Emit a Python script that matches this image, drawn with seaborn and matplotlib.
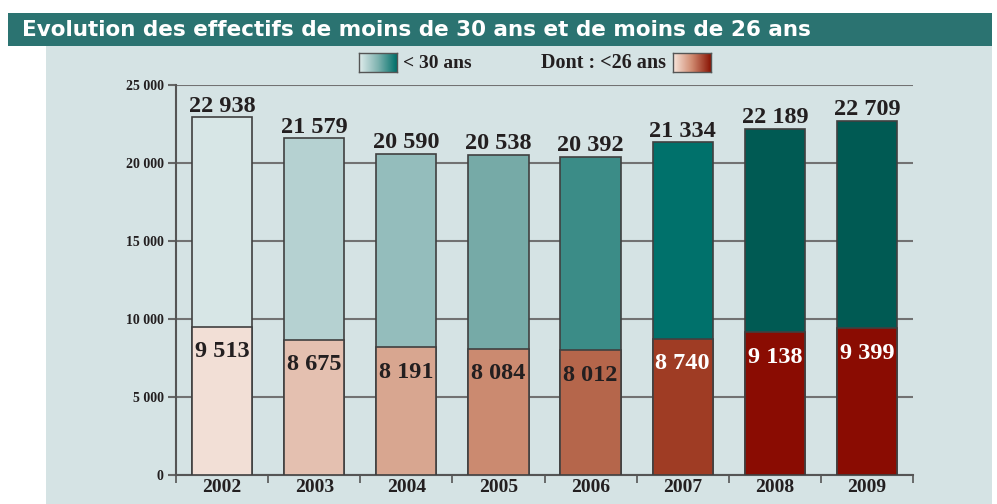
import numpy as np
import pandas as pd
import matplotlib
matplotlib.use("Agg")
import matplotlib.pyplot as plt
import seaborn as sns
from matplotlib.patches import Rectangle
from matplotlib.colors import LinearSegmentedColormap

years = ["2002", "2003", "2004", "2005", "2006", "2007", "2008", "2009"]
under30 = [22938, 21579, 20590, 20538, 20392, 21334, 22189, 22709]
under26 = [9513, 8675, 8191, 8084, 8012, 8740, 9138, 9399]
colors30 = ["#d7e6e6", "#b5d1d1", "#94bdbc", "#76aaa7", "#3b8c87", "#00716b", "#005a53", "#005a53"]
colors26 = ["#f2dfd6", "#e4c0b0", "#d8a690", "#cb8a70", "#b5664b", "#9f3c24", "#8a0c02", "#8a0c02"]
label26_colors = ["#231f20"] * 5 + ["white"] * 3
title = "Evolution des effectifs de moins de 30 ans et de moins de 26 ans"
yticks = [0, 5000, 10000, 15000, 20000, 25000]
ytick_labels = ["0", "5 000", "10 000", "15 000", "20 000", "25 000"]

df = pd.DataFrame({"year": years, "under30": under30, "under26": under26})

def fmt(v):
    return f"{v:,}".replace(",", " ")

W, H = 997, 504
fig = plt.figure(figsize=(W / 100, H / 100), dpi=100)
fig.patch.set_facecolor("white")

# background panel and title band, in a background axes
bg = fig.add_axes([0, 0, 1, 1], zorder=-10)
bg.set_xlim(0, W)
bg.set_ylim(H, 0)
bg.axis("off")
bg.add_patch(Rectangle((46, 46), 992 - 46, H - 46, facecolor="#d5e3e4", edgecolor="none"))
bg.add_patch(Rectangle((8, 13), 992 - 8, 33, facecolor="#2b7371", edgecolor="none"))
bg.text(22, 30, title, color="white", fontsize=15.5, fontweight="bold",
        family="DejaVu Sans", va="center", ha="left")

ax = fig.add_axes([176 / W, 1 - 475 / H, (913 - 176) / W, (475 - 85) / H], zorder=5)
ax.set_facecolor("none")

serif = "Liberation Serif"
sns.barplot(data=df, x="year", y="under30", palette=colors30, hue="year",
            legend=False, width=0.655, edgecolor="#404040", linewidth=1.2,
            saturation=1, ax=ax, zorder=3)
sns.barplot(data=df, x="year", y="under26", palette=colors26, hue="year",
            legend=False, width=0.655, edgecolor="#404040", linewidth=1.2,
            saturation=1, ax=ax, zorder=4)

for i, (a, b) in enumerate(zip(under30, under26)):
    ax.annotate(fmt(a), (i, a), xytext=(0, 4), textcoords="offset points",
                ha="center", va="baseline", fontsize=17.5, fontweight="bold",
                family=serif, color="#231f20", zorder=6)
    ax.annotate(fmt(b), (i, b), xytext=(0, -18), textcoords="offset points",
                ha="center", va="center", fontsize=17.5, fontweight="bold",
                family=serif, color=label26_colors[i], zorder=6)

ax.set_xlim(-0.5, 7.5)
ax.set_ylim(0, 25000)
ax.set_yticks(yticks)
ax.set_yticklabels(ytick_labels, fontsize=10, fontweight="bold", family=serif,
                   color="#231f20")
ax.tick_params(axis="y", length=6, width=1.5, color="#666666", pad=3)
ax.set_xticks(range(len(years)))
ax.set_xticklabels(years, fontsize=14, fontweight="bold", family=serif,
                   color="#231f20")
ax.tick_params(axis="x", length=0, pad=3)
ax.set_xticks(np.arange(-0.5, 8, 1), minor=True)
ax.tick_params(axis="x", which="minor", length=6, width=1.2, color="#555555",
               direction="out")
ax.set_xlabel("")
ax.set_ylabel("")
ax.yaxis.grid(True, color="#727272", linewidth=1.5, zorder=1)
ax.xaxis.grid(False)
ax.set_axisbelow(True)
for s in ["top", "right"]:
    ax.spines[s].set_visible(False)
for s in ["left", "bottom"]:
    ax.spines[s].set_color("#555555")
    ax.spines[s].set_linewidth(1.5)

# legend with gradient boxes
grad = np.linspace(0, 1, 100).reshape(1, -1)
cm30 = LinearSegmentedColormap.from_list("c30", ["#e0ecec", "#7fb3b0", "#00706a"])
cm26 = LinearSegmentedColormap.from_list("c26", ["#f8e6dc", "#d08a70", "#8a1505"])
for x0, cmap in [(359, cm30), (673, cm26)]:
    lax = fig.add_axes([x0 / W, 1 - 72 / H, 38 / W, 19 / H], zorder=6)
    lax.imshow(grad, aspect="auto", cmap=cmap)
    lax.set_xticks([])
    lax.set_yticks([])
    for s in lax.spines.values():
        s.set_color("#555555")
        s.set_linewidth(1)
fig.text(403 / W, 1 - 63 / H, "< 30 ans", fontsize=14, fontweight="bold",
         family=serif, color="#231f20", va="center", ha="left")
fig.text(666 / W, 1 - 63 / H, "Dont : <26 ans", fontsize=14.5, fontweight="bold",
         family=serif, color="#231f20", va="center", ha="right")

fig.savefig("out.png", dpi=100, facecolor=fig.get_facecolor())
